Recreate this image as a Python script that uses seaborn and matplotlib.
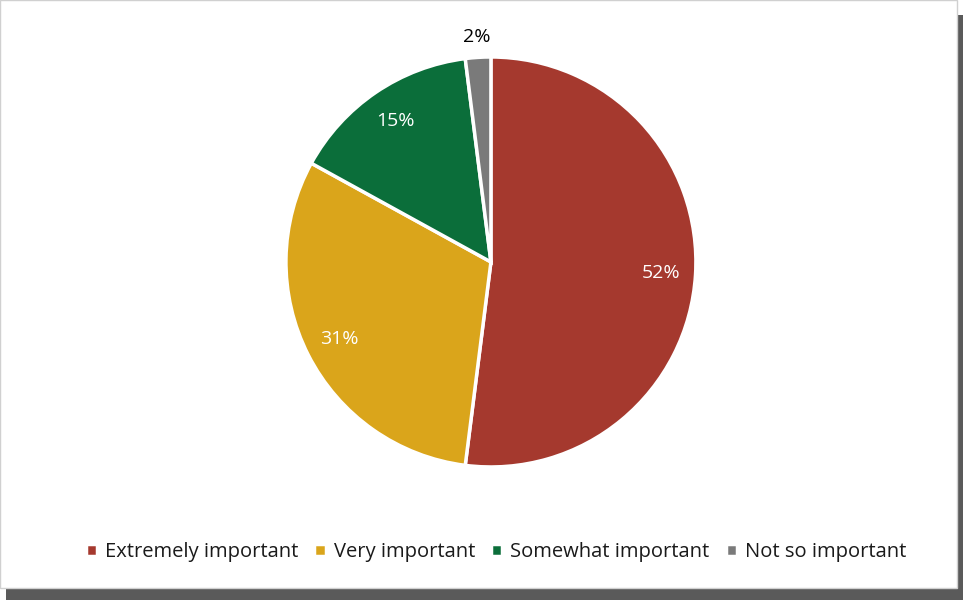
import numpy as np
import matplotlib.pyplot as plt
import seaborn as sns
from matplotlib.patches import Rectangle

categories = ["Extremely important", "Very important", "Somewhat important", "Not so important"]
shares = [52, 31, 15, 2]
colors = ["#A5392E", "#DAA51B", "#0B6E3A", "#7A7A7A"]

sns.set_theme(style="white")
plt.rcParams["font.family"] = ["Open Sans", "DejaVu Sans"]

fig = plt.figure(figsize=(9.63, 6.0), dpi=100)

# frame with drop shadow
fig.patches.append(Rectangle((0.006, 0.0), 0.994, 0.975, transform=fig.transFigure,
                             facecolor="#5a5a5a", edgecolor="none", zorder=0))
fig.patches.append(Rectangle((0.0, 0.02), 0.994, 0.98, transform=fig.transFigure,
                             facecolor="white", edgecolor="#d0d0d0", lw=1, zorder=1))

ax = fig.add_axes([0.0, 0.0, 1.0, 1.0])
ax.set_zorder(3)
ax.patch.set_alpha(0)
wedges, _ = ax.pie(shares, colors=colors, startangle=90, counterclock=False,
                   wedgeprops=dict(edgecolor="white", linewidth=2.5), radius=1.0)

for w, v in zip(wedges, shares):
    mid = np.deg2rad((w.theta1 + w.theta2) / 2)
    if v < 5:
        r, c = 1.1, "black"
    else:
        r, c = 0.83, "white"
    ax.text(r * np.cos(mid), r * np.sin(mid), f"{v}%", ha="center", va="center",
            color=c, fontsize=14)

# pie radius ~205 px, centred near (491, 262) px from top-left
ax.set_xlim(-2.395, 2.303)
ax.set_ylim(-1.649, 1.278)
ax.set_aspect("equal", adjustable="datalim")
ax.axis("off")

leg = fig.legend(wedges, categories, loc="center", bbox_to_anchor=(0.515, 0.08),
                 ncol=4, frameon=False, fontsize=14.5, handlelength=0.55,
                 handleheight=0.55, handletextpad=0.4, columnspacing=0.8)
for t in leg.get_texts():
    t.set_color("#1a1a1a")

fig.savefig("out.png", dpi=100)
